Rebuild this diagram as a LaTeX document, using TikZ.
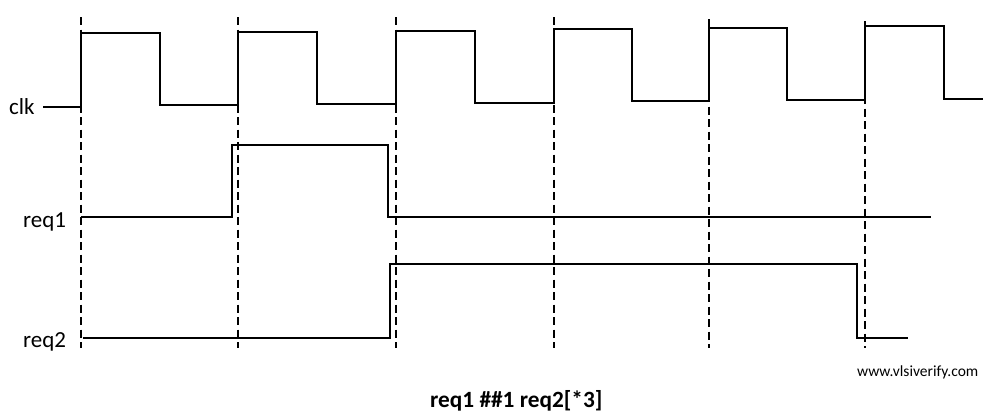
\documentclass[tikz,border=0pt]{standalone}
\usepackage{fontspec}
\setmainfont{Carlito}
\begin{document}
\begin{tikzpicture}[x=1pt,y=-1pt,
  wave/.style={line width=2.3pt,line join=miter},
  clkline/.style={line width=1.8pt,dash pattern=on 8pt off 4.5pt},
  siglabel/.style={font=\fontsize{23}{26}\selectfont,anchor=base west,inner sep=0pt},
  webtext/.style={font=\fontsize{15.5}{18}\selectfont,anchor=base west,inner sep=0pt},
  titletext/.style={font=\bfseries\fontsize{23.3}{26}\selectfont,anchor=base west,inner sep=0pt}]
\useasboundingbox (0,0) rectangle (992,418);
% dashed clock-edge markers
\foreach \xx/\yt in {81/17,238/17,396/17,554/17,709/19,865/21}
  \draw[clkline] (\xx,\yt) -- (\xx,348);
% clk
\draw[wave] (43,107) -- (81,107) -- (81,33) -- (160,33) -- (160,105) -- (238,105)
  -- (238,32) -- (317,32) -- (317,104) -- (396,104) -- (396,31) -- (475,31)
  -- (475,103) -- (554,103) -- (554,29) -- (632,29) -- (632,101) -- (709,101)
  -- (709,28) -- (787,28) -- (787,100) -- (865,100) -- (865,26) -- (944,26)
  -- (944,99) -- (983,99);
% req1
\draw[wave] (81,217) -- (232,217) -- (232,145) -- (388,145) -- (388,217) -- (931,217);
% req2
\draw[wave] (83,338) -- (390,338) -- (390,264) -- (857,264) -- (857,338) -- (908,338);
% labels
\node[siglabel] (lclk) at (9,114) {clk};
\node[siglabel] (lreq1) at (23,227) {req1};
\node[siglabel] (lreq2) at (23,347) {req2};
\node[webtext] (web) at (857,376) {www.vlsiverify.com};
\node[titletext] (title) at (430,407) {req1 \#\#1 req2[*3]};
\end{tikzpicture}
\end{document}
